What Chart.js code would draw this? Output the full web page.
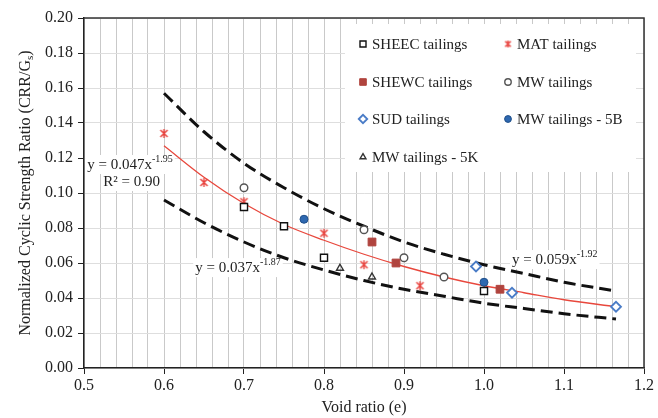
<!DOCTYPE html>
<html>
<head>
<meta charset="utf-8">
<script src="https://cdn.jsdelivr.net/npm/chart.js@4.4.1/dist/chart.umd.min.js"></script>
<style>
  html, body { margin: 0; padding: 0; background: #fff; }
</style>
</head>
<body>
<canvas id="chart" width="658" height="418"></canvas>
<script>
// values
const sheecE = [0.70, 0.75, 0.80, 1.00];
const sheecR = [0.092, 0.081, 0.063, 0.044];
const matE = [0.60, 0.65, 0.70, 0.80, 0.85, 0.92];
const matR = [0.134, 0.106, 0.095, 0.077, 0.059, 0.047];
const shewcE = [0.86, 0.89, 1.02];
const shewcR = [0.072, 0.060, 0.045];
const mwE = [0.70, 0.85, 0.90, 0.95];
const mwR = [0.103, 0.079, 0.063, 0.052];
const sudE = [0.99, 1.035, 1.165];
const sudR = [0.058, 0.043, 0.035];
const mw5bE = [0.775, 1.00];
const mw5bR = [0.085, 0.049];
const mw5kE = [0.82, 0.86];
const mw5kR = [0.057, 0.052];

// trend curves
const fitE = [0.60, 0.65, 0.70, 0.75, 0.80, 0.85, 0.90, 0.95, 1.00, 1.05, 1.10, 1.165];
const fitMid = [0.127, 0.109, 0.094, 0.082, 0.073, 0.065, 0.058, 0.052, 0.047, 0.043, 0.039, 0.035];
const fitUpper = [0.157, 0.135, 0.117, 0.103, 0.091, 0.081, 0.072, 0.065, 0.059, 0.054, 0.049, 0.044];
const fitLower = [0.096, 0.083, 0.072, 0.063, 0.056, 0.050, 0.045, 0.041, 0.037, 0.034, 0.031, 0.028];

const seriesNames = ['SHEEC tailings', 'MAT tailings', 'SHEWC tailings', 'MW tailings',
  'SUD tailings', 'MW tailings - 5B', 'MW tailings - 5K'];

const SERIF = '"Liberation Serif", "Times New Roman", serif';
const TXT = '#222';

function pts(xs, ys) {
  return xs.map((x, i) => ({ x: x, y: ys[i] }));
}

// asterisk marker like the spreadsheet one
function makeStar(size, color) {
  const c = document.createElement('canvas');
  c.width = size; c.height = size;
  const g = c.getContext('2d');
  g.strokeStyle = color;
  g.lineWidth = 1.4;
  const m = size / 2, r = size / 2 - 1;
  g.beginPath();
  g.moveTo(m - r * 0.8, m - r * 0.8); g.lineTo(m + r * 0.8, m + r * 0.8);
  g.moveTo(m + r * 0.8, m - r * 0.8); g.lineTo(m - r * 0.8, m + r * 0.8);
  g.moveTo(m, m - r); g.lineTo(m, m + r);
  g.stroke();
  return c;
}
const starImg = makeStar(11, '#e8413c');
const starSmall = makeStar(9, '#e8413c');

function marker(label, data, style, radius, fill, stroke, bw) {
  return {
    label: label, data: data, showLine: false, order: 0,
    pointStyle: style, pointRadius: radius, pointHoverRadius: radius,
    pointBackgroundColor: fill, pointBorderColor: stroke, pointBorderWidth: bw
  };
}

function curve(data, color, width, dash) {
  return {
    label: '', data: data, showLine: true, order: 1,
    borderColor: color, borderWidth: width, borderDash: dash,
    pointRadius: 0, tension: 0.4, cubicInterpolationMode: 'monotone', fill: false
  };
}

const datasets = [
  marker(seriesNames[0], pts(sheecE, sheecR), 'rect', 5, '#fff', '#111', 1.4),
  marker(seriesNames[1], pts(matE, matR), starImg, 5, '#e8413c', '#e8413c', 1),
  marker(seriesNames[2], pts(shewcE, shewcR), 'rect', 5.5, '#b0443e', '#b0443e', 1),
  marker(seriesNames[3], pts(mwE, mwR), 'circle', 3.8, '#fff', '#555', 1.4),
  marker(seriesNames[4], pts(sudE, sudR), 'rectRot', 5, '#fff', '#4a7cc7', 1.8),
  marker(seriesNames[5], pts(mw5bE, mw5bR), 'circle', 4, '#2e68b0', '#1f4f8a', 1),
  marker(seriesNames[6], pts(mw5kE, mw5kR), 'triangle', 4, 'rgba(0,0,0,0)', '#333', 1.4),
  curve(pts(fitE, fitMid), '#e8473c', 1.3, []),
  curve(pts(fitE, fitUpper), '#111', 3, [12, 6]),
  curve(pts(fitE, fitLower), '#111', 3, [12, 6])
];

function drawEq(ctx, x, y, base, sup) {
  ctx.font = '15px ' + SERIF;
  const w1 = ctx.measureText(base).width;
  ctx.font = '10px ' + SERIF;
  const w2 = sup ? ctx.measureText(sup).width : 0;
  ctx.fillStyle = '#fff';
  ctx.fillRect(x - 2, y - 10, w1 + w2 + 4, 19);
  ctx.fillStyle = TXT;
  ctx.textBaseline = 'middle';
  ctx.textAlign = 'left';
  ctx.font = '15px ' + SERIF;
  ctx.fillText(base, x, y);
  if (sup) {
    ctx.font = '10px ' + SERIF;
    ctx.fillText(sup, x + w1, y - 6);
  }
}

const annotations = {
  id: 'annotations',
  beforeDatasetsDraw(chart) {
    const ctx = chart.ctx;
    const xs = chart.scales.x, ys = chart.scales.y;
    ctx.save();
    drawEq(ctx, xs.getPixelForValue(0.504), ys.getPixelForValue(0.116), 'y = 0.047x', '-1.95');
    drawEq(ctx, xs.getPixelForValue(0.524), ys.getPixelForValue(0.1063), 'R\u00B2 = 0.90', '');
    drawEq(ctx, xs.getPixelForValue(0.639), ys.getPixelForValue(0.0571), 'y = 0.037x', '-1.87');
    drawEq(ctx, xs.getPixelForValue(1.035), ys.getPixelForValue(0.0617), 'y = 0.059x', '-1.92');

    // legend box
    ctx.fillStyle = '#fff';
    ctx.fillRect(345, 24, 291, 148);
    const cols = [363, 508];
    const rows = [44, 82, 119, 157];
    chart.data.datasets.forEach((ds, i) => {
      if (!ds.label) return;
      const cx = cols[i % 2], cy = rows[Math.floor(i / 2)];
      ctx.fillStyle = ds.pointBackgroundColor;
      ctx.strokeStyle = ds.pointBorderColor;
      ctx.lineWidth = ds.pointBorderWidth;
      const style = ds.pointStyle === starImg ? starSmall : ds.pointStyle;
      Chart.helpers.drawPoint(ctx, {
        pointStyle: style, radius: ds.pointRadius * 0.85, rotation: 0,
        borderWidth: ds.pointBorderWidth
      }, cx, cy);
      ctx.fillStyle = TXT;
      ctx.font = '15px ' + SERIF;
      ctx.textAlign = 'left';
      ctx.textBaseline = 'middle';
      ctx.fillText(ds.label, cx + 9, cy + 1);
    });
    ctx.restore();
  },
  afterDraw(chart) {
    const ctx = chart.ctx;
    const a = chart.chartArea;
    ctx.save();
    // frame top and right
    ctx.strokeStyle = '#333';
    ctx.lineWidth = 1.5;
    ctx.beginPath();
    ctx.moveTo(a.left, a.top);
    ctx.lineTo(a.right, a.top);
    ctx.lineTo(a.right, a.bottom);
    ctx.stroke();

    // y title with subscript
    ctx.translate(26, (a.top + a.bottom) / 2);
    ctx.rotate(-Math.PI / 2);
    ctx.fillStyle = TXT;
    ctx.textBaseline = 'middle';
    ctx.textAlign = 'left';
    const main = 'Normalized Cyclic Strength Ratio (CRR/G';
    ctx.font = '16px ' + SERIF;
    const w1 = ctx.measureText(main).width;
    const wEnd = ctx.measureText(')').width;
    ctx.font = '11px ' + SERIF;
    const wS = ctx.measureText('s').width;
    let x0 = -(w1 + wS + wEnd) / 2;
    ctx.font = '16px ' + SERIF;
    ctx.fillText(main, x0, 0);
    ctx.font = '11px ' + SERIF;
    ctx.fillText('s', x0 + w1, 4);
    ctx.font = '16px ' + SERIF;
    ctx.fillText(')', x0 + w1 + wS, 0);
    ctx.restore();
  }
};

new Chart(document.getElementById('chart').getContext('2d'), {
  type: 'scatter',
  data: { datasets: datasets },
  options: {
    responsive: false,
    animation: false,
    layout: { padding: { top: 18, right: 14, left: 0, bottom: 0 } },
    plugins: {
      legend: { display: false },
      tooltip: { enabled: false }
    },
    scales: {
      x: {
        type: 'linear', min: 0.5, max: 1.2,
        afterFit: s => { s.height = 50; },
        ticks: {
          stepSize: 0.02, autoSkip: false, maxRotation: 0, padding: 2,
          color: TXT, font: { family: SERIF, size: 16 },
          callback: v => Math.abs(v * 10 - Math.round(v * 10)) < 1e-6 ? v.toFixed(1) : ''
        },
        grid: {
          color: '#c9c9c9', lineWidth: 1, tickLength: 6,
          tickColor: c => (c.tick && Math.abs(c.tick.value * 10 - Math.round(c.tick.value * 10)) < 1e-6) ? '#222' : 'rgba(0,0,0,0)'
        },
        border: { display: true, color: '#222', width: 1.5 },
        title: {
          display: true, text: 'Void ratio (e)', color: TXT,
          font: { family: SERIF, size: 16 }, padding: { top: 0, bottom: 1 }
        }
      },
      y: {
        min: 0, max: 0.2,
        afterFit: s => { s.width = 84; },
        ticks: {
          stepSize: 0.02, padding: 5, color: TXT,
          font: { family: SERIF, size: 16 },
          callback: v => v.toFixed(2)
        },
        grid: { color: '#dedede', lineWidth: 1, tickLength: 6, tickColor: '#222' },
        border: { display: true, color: '#222', width: 1.5 }
      }
    }
  },
  plugins: [annotations]
});
</script>
</body>
</html>
